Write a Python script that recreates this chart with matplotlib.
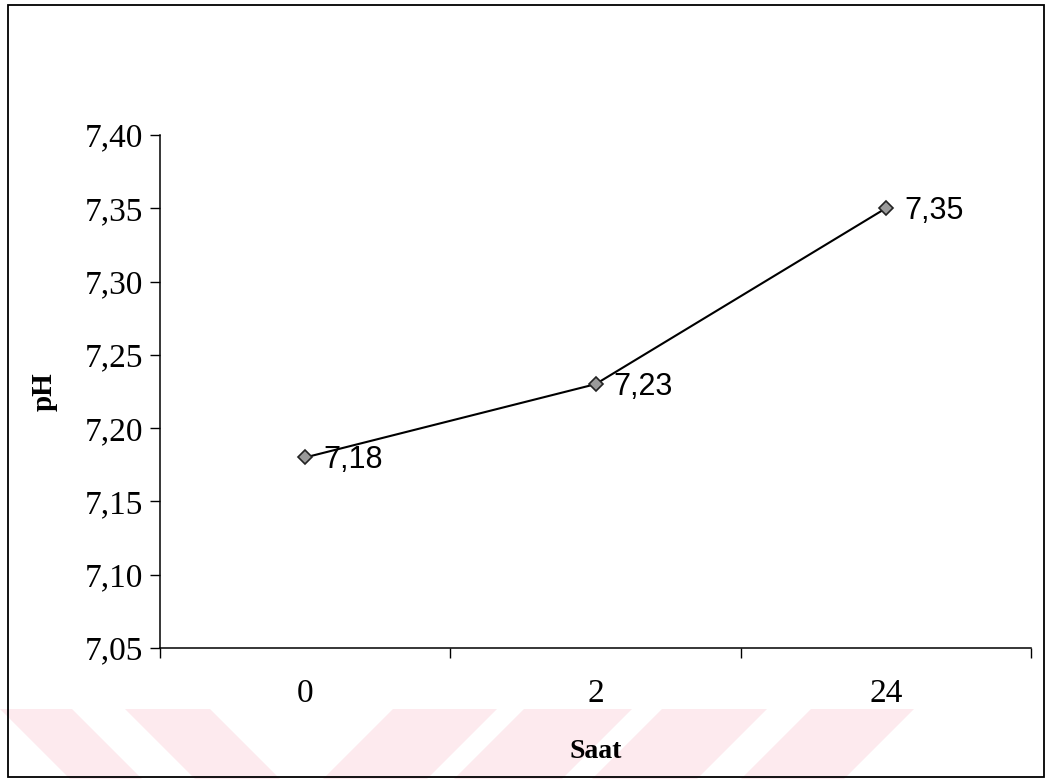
import matplotlib
matplotlib.use("Agg")
from matplotlib import pyplot as plt
from matplotlib.patches import Polygon, Rectangle

saat = ["0", "2", "24"]
ph = [7.18, 7.23, 7.35]
y_ticks = [7.05, 7.10, 7.15, 7.20, 7.25, 7.30, 7.35, 7.40]

W, H = 1049, 779
fig = plt.figure(figsize=(W / 100, H / 100), dpi=100)
fig.patch.set_facecolor("white")


def px(x, y):
    # pixel position (from top-left) -> figure fraction
    return x / W, 1 - y / H


# diagonal stripes along the bottom edge
stripe_color = "#fdeaee"
top, bot = 709, 779
back = [(0, 72), (125, 210)]
fwd = [(393, 497), (524, 632), (662, 767), (811, 914)]
for a, b in back:
    pts = [px(a, top), px(b, top), px(b + 70, bot), px(a + 70, bot)]
    fig.patches.append(Polygon(pts, closed=True, transform=fig.transFigure,
                               facecolor=stripe_color, edgecolor="none", zorder=-2))
for a, b in fwd:
    pts = [px(a, top), px(b, top), px(b - 70, bot), px(a - 70, bot)]
    fig.patches.append(Polygon(pts, closed=True, transform=fig.transFigure,
                               facecolor=stripe_color, edgecolor="none", zorder=-2))

# chart frame
x0, y0 = px(8, 777)
x1, y1 = px(1044, 5)
fig.patches.append(Rectangle((x0, y0), x1 - x0, y1 - y0, transform=fig.transFigure,
                             fill=False, edgecolor="black", linewidth=1.3, zorder=-1))

ax = fig.add_axes([160 / W, 1 - 648 / H, (1031 - 160) / W, (648 - 135) / H])
ax.set_facecolor("none")

xs = list(range(len(saat)))
ax.plot(xs, ph, color="black", linewidth=1.5, marker="D", markersize=7,
        markerfacecolor="#9a9a9a", markeredgecolor="#222222", markeredgewidth=1.2)

for x, v in zip(xs, ph):
    ax.annotate(f"{v:.2f}".replace(".", ","), (x, v), xytext=(13, -2),
                textcoords="offset points", ha="left", va="center",
                fontsize=22, family="Liberation Sans")

ax.set_xlim(-0.5, len(saat) - 0.5)
ax.set_ylim(7.05, 7.40)
ax.set_xticks(xs)
ax.set_xticklabels(saat)
ax.set_xticks([x + 0.5 for x in [-1] + xs], minor=True)
ax.set_yticks(y_ticks)
ax.set_yticklabels([f"{t:.2f}".replace(".", ",") for t in y_ticks])

serif = "Liberation Serif"
for lab in ax.get_xticklabels() + ax.get_yticklabels():
    lab.set_family(serif)
    lab.set_fontsize(24)

ax.tick_params(axis="x", which="major", length=0, pad=22)
ax.tick_params(axis="x", which="minor", direction="out", length=7, width=1)
ax.tick_params(axis="y", direction="out", length=7, width=1, pad=5)

for side in ["top", "right"]:
    ax.spines[side].set_visible(False)
for side in ["left", "bottom"]:
    ax.spines[side].set_linewidth(1.1)

ax.set_xlabel("Saat", family=serif, fontweight="bold", fontsize=20)
ax.set_ylabel("pH", family=serif, fontweight="bold", fontsize=21)
ax.xaxis.set_label_coords(0.5, -0.178)
ax.yaxis.set_label_coords(-0.118, 0.5)

fig.savefig("out.png", dpi=100)
